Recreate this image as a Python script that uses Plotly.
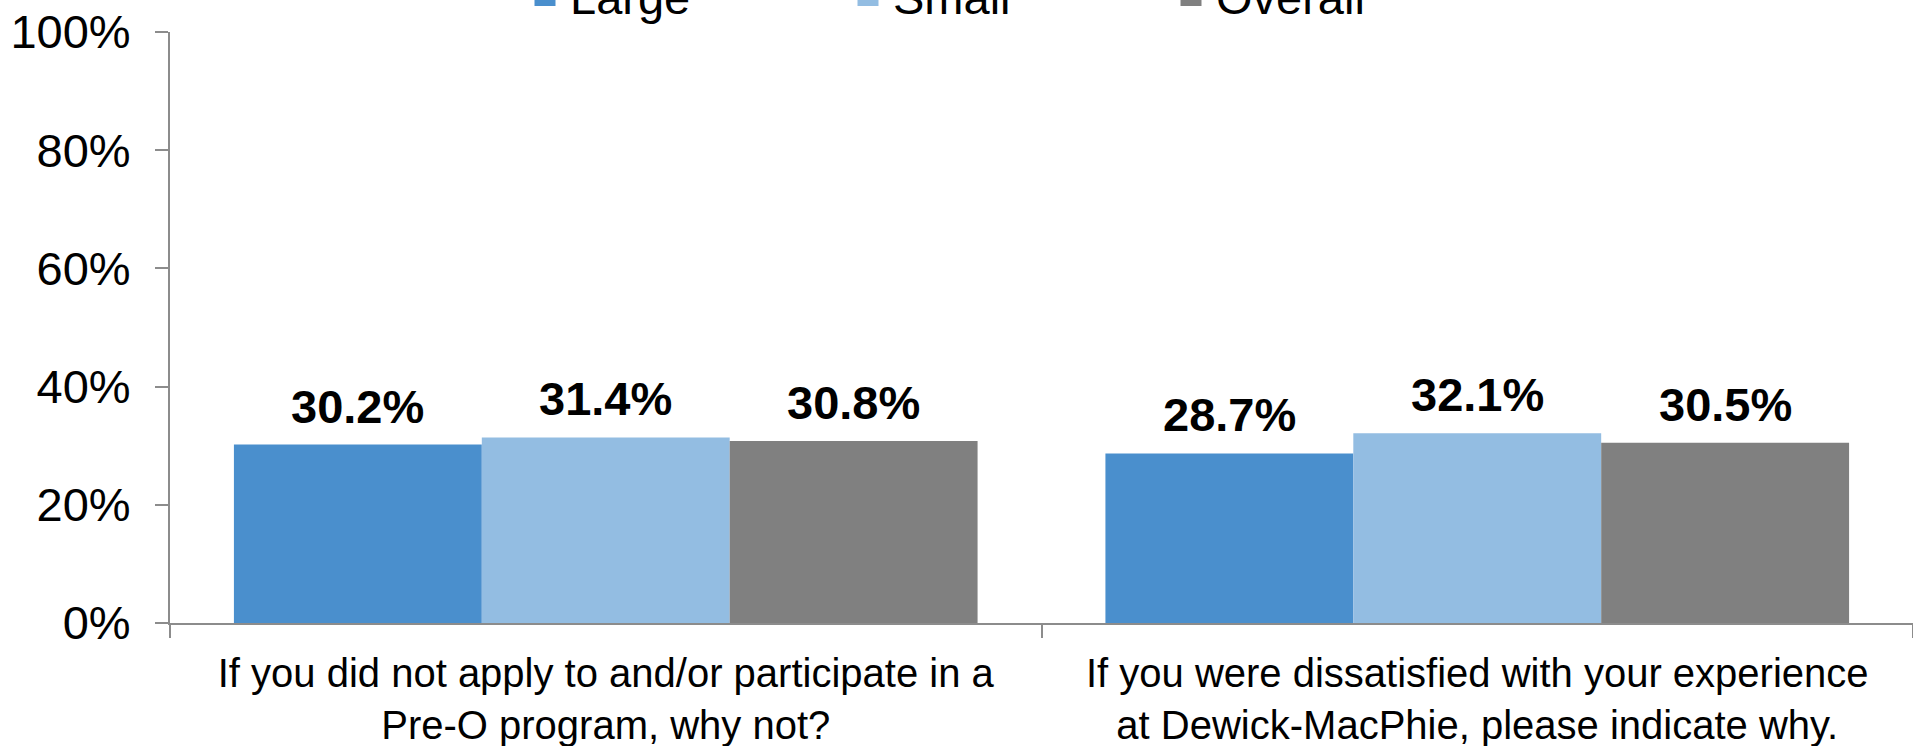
import plotly.graph_objects as go

# Survey questions (x categories) and share of respondents per segment
questions = [
    "If you did not apply to and/or participate in a<br>Pre-O program, why not?",
    "If you were dissatisfied with your experience<br>at Dewick-MacPhie, please indicate why.",
]
series_names = ["Large", "Small", "Overall"]
large = [0.302, 0.287]
small = [0.314, 0.321]
overall = [0.308, 0.305]
colors = ["#4a8fcd", "#93bde2", "#808080"]

y_tickvals = [0, 0.2, 0.4, 0.6, 0.8, 1.0]
y_ticktext = ["0%", "20%", "40%", "60%", "80%", "100%"]

FONT = "Liberation Sans, Arial, sans-serif"
AXIS_GREY = "#8c8c8c"
BAR_GAP = 0.1467
MARGIN_L, MARGIN_R, MARGIN_T, MARGIN_B = 170, 0, 32, 123
WIDTH, HEIGHT = 1913, 746
PLOT_W = WIDTH - MARGIN_L - MARGIN_R
PLOT_H = HEIGHT - MARGIN_T - MARGIN_B

x_pos = list(range(len(questions)))
values = [large, small, overall]

fig = go.Figure()
for name, vals, col in zip(series_names, values, colors):
    fig.add_trace(go.Bar(
        x=x_pos, y=vals, name=name, marker_color=col,
        marker_line_width=0, showlegend=False,
    ))
    # legend key (bigger square than the default bar swatch)
    fig.add_trace(go.Scatter(
        x=[None], y=[None], mode="markers", name=name,
        marker=dict(symbol="square", size=16, color=col,
                    line=dict(color=col, width=5)),
    ))

# value labels above each bar, placed at the grouped-bar offsets
n = len(series_names)
bar_w = (1 - BAR_GAP) / n
annotations = []
for i, vals in enumerate(values):
    off = (i - (n - 1) / 2) * bar_w
    for xp, v in zip(x_pos, vals):
        annotations.append(dict(
            x=xp + off, y=v, xref="x", yref="y", text=f"{v * 100:.1f}%",
            showarrow=False, yanchor="bottom", yshift=10,
            font=dict(family=FONT, size=47, color="black", weight="bold"),
        ))

fig.update_layout(
    width=WIDTH, height=HEIGHT,
    margin=dict(l=MARGIN_L, r=MARGIN_R, t=MARGIN_T, b=MARGIN_B, autoexpand=False),
    paper_bgcolor="white", plot_bgcolor="white",
    barmode="group", bargap=BAR_GAP, bargroupgap=0,
    font=dict(family=FONT, color="black"),
    annotations=annotations,
    legend=dict(
        orientation="h", xref="paper", yref="paper",
        x=(520 - MARGIN_L) / PLOT_W, xanchor="left",
        y=1 + (MARGIN_T + 4) / PLOT_H, yanchor="middle",
        font=dict(family=FONT, size=47, color="black"),
        itemwidth=40, entrywidth=268, entrywidthmode="pixels",
        bgcolor="rgba(0,0,0,0)", itemclick=False,
    ),
    xaxis=dict(
        range=[-0.5, 1.5], tickmode="array", tickvals=x_pos, ticktext=questions,
        ticks="", showgrid=False, zeroline=False,
        showline=True, linecolor=AXIS_GREY, linewidth=2,
        tickfont=dict(family=FONT, size=40, color="black"),
        ticklabelstandoff=14,
        minor=dict(tickmode="array", tickvals=[-0.5, 0.5, 1.5], ticks="outside",
                   ticklen=13, tickwidth=2, tickcolor=AXIS_GREY, showgrid=False),
    ),
    yaxis=dict(
        range=[0, 1], tickmode="array", tickvals=y_tickvals, ticktext=y_ticktext,
        ticks="outside", ticklen=13, tickwidth=2, tickcolor=AXIS_GREY,
        showgrid=False, zeroline=False,
        showline=True, linecolor=AXIS_GREY, linewidth=2,
        tickfont=dict(family=FONT, size=47, color="black"),
        ticklabelstandoff=15,
    ),
)

fig.write_html("out.html")
